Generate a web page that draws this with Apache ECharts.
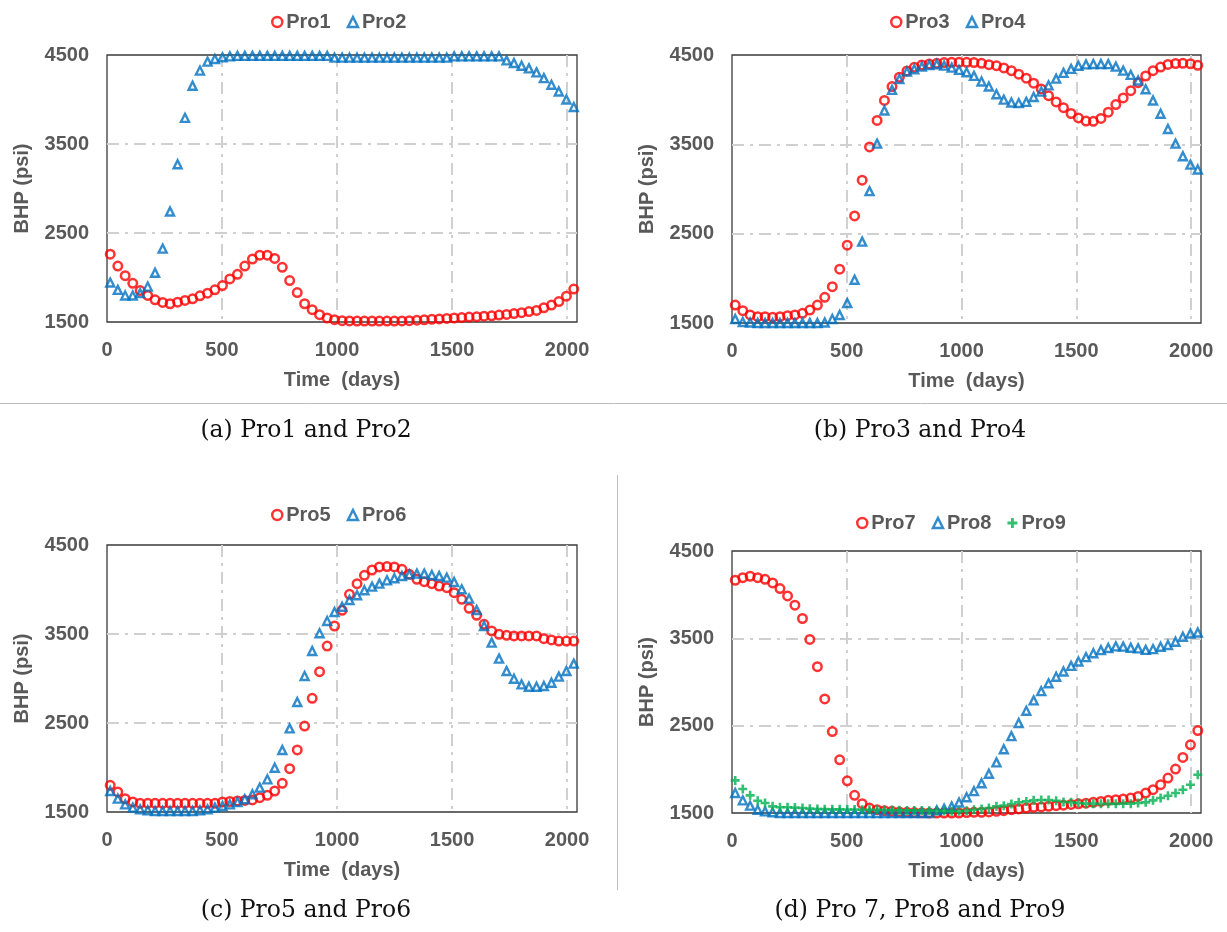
<!DOCTYPE html>
<html>
<head>
<meta charset="utf-8">
<script src="https://cdn.jsdelivr.net/npm/echarts@6/dist/echarts.min.js"></script>
<style>html,body{margin:0;padding:0;background:#fff}#c{width:1227px;height:932px}</style>
</head>
<body>
<div id="c"></div>
<script>
const days = [14,47,79,112,144,177,209,242,274,307,339,372,404,437,469,502,534,567,599,632,664,697,729,762,794,827,859,892,924,957,989,1022,1054,1087,1119,1152,1184,1217,1249,1282,1314,1347,1379,1412,1444,1477,1509,1542,1574,1607,1639,1672,1704,1737,1769,1802,1834,1867,1899,1932,1964,1997,2029];

const pro1 = [2262,2129,2021,1935,1853,1798,1749,1720,1705,1723,1742,1761,1794,1824,1861,1909,1984,2036,2129,2207,2251,2251,2214,2114,1965,1831,1705,1638,1582,1545,1526,1515,1512,1510,1510,1510,1510,1510,1510,1512,1515,1520,1525,1530,1535,1540,1545,1550,1555,1560,1565,1570,1578,1585,1595,1605,1617,1630,1660,1690,1730,1790,1870];
const pro2 = [1943,1861,1798,1798,1824,1898,2054,2325,2742,3273,3794,4154,4325,4426,4455,4474,4485,4490,4490,4490,4490,4490,4490,4490,4490,4490,4490,4490,4490,4490,4470,4470,4470,4470,4470,4470,4470,4470,4470,4470,4470,4470,4470,4470,4470,4470,4485,4485,4485,4485,4485,4485,4485,4440,4410,4380,4350,4305,4240,4165,4090,4000,3915];
const pro3 = [1701,1638,1590,1571,1571,1564,1571,1582,1590,1608,1645,1701,1787,1906,2103,2371,2698,3099,3471,3768,3991,4147,4251,4322,4362,4388,4400,4407,4415,4418,4418,4418,4415,4407,4392,4380,4355,4325,4285,4240,4185,4120,4045,3975,3910,3845,3795,3760,3758,3790,3860,3945,4020,4100,4190,4265,4325,4365,4395,4405,4407,4402,4385];
const pro4 = [1545,1512,1505,1500,1500,1500,1500,1500,1500,1500,1500,1500,1505,1545,1590,1724,1984,2411,2976,3508,3879,4110,4232,4314,4340,4370,4388,4396,4381,4359,4333,4307,4266,4203,4147,4060,4000,3968,3962,3975,4030,4090,4160,4235,4300,4345,4380,4395,4400,4400,4398,4370,4325,4277,4214,4117,3991,3842,3671,3508,3366,3273,3218];
const pro5 = [1800,1725,1650,1613,1598,1598,1598,1598,1598,1598,1598,1598,1598,1598,1598,1613,1618,1624,1630,1635,1661,1688,1736,1822,1987,2197,2466,2777,3077,3365,3590,3766,3946,4066,4159,4219,4253,4258,4253,4227,4170,4114,4088,4066,4039,4021,3964,3890,3788,3710,3609,3534,3496,3485,3478,3478,3478,3478,3448,3433,3421,3421,3421];
const pro6 = [1736,1650,1586,1549,1530,1519,1511,1511,1511,1511,1511,1511,1519,1530,1549,1568,1586,1613,1643,1699,1774,1867,1998,2197,2440,2736,3028,3309,3508,3646,3747,3807,3882,3935,3991,4032,4066,4103,4126,4152,4170,4178,4178,4163,4152,4133,4084,4002,3897,3770,3590,3403,3223,3084,2998,2934,2908,2908,2916,2953,3021,3084,3167];
const pro7 = [4165,4195,4211,4195,4176,4135,4070,3986,3879,3727,3487,3175,2806,2433,2109,1869,1702,1607,1557,1538,1527,1519,1512,1508,1505,1502,1500,1500,1500,1500,1500,1505,1508,1508,1512,1519,1527,1538,1546,1557,1565,1570,1576,1584,1590,1598,1605,1613,1622,1633,1645,1652,1660,1671,1690,1728,1767,1824,1900,2003,2136,2281,2444];
const pro8 = [1729,1645,1584,1538,1519,1508,1500,1500,1500,1500,1500,1500,1500,1500,1500,1500,1500,1500,1500,1500,1500,1500,1500,1500,1500,1500,1500,1530,1550,1575,1620,1680,1750,1840,1950,2080,2230,2380,2530,2670,2790,2895,2985,3060,3120,3185,3235,3285,3330,3365,3390,3408,3405,3392,3385,3368,3377,3404,3423,3461,3518,3556,3567];
const pro9 = [1873,1774,1702,1641,1614,1576,1565,1565,1562,1557,1550,1546,1544,1542,1542,1540,1540,1538,1538,1536,1535,1533,1532,1530,1530,1528,1527,1525,1522,1520,1519,1527,1538,1546,1557,1576,1584,1603,1622,1633,1645,1648,1648,1640,1626,1622,1614,1607,1607,1605,1605,1605,1607,1607,1614,1622,1645,1671,1698,1729,1767,1824,1938];

const xTicks = [0, 500, 1000, 1500, 2000];
const yTicks = [1500, 2500, 3500, 4500];
const captions = ['(a) Pro1 and Pro2', '(b) Pro3 and Pro4', '(c) Pro5 and Pro6', '(d) Pro 7, Pro8 and Pro9'];
const panelSeries = [
  [['Pro1', pro1, 'o'], ['Pro2', pro2, 't']],
  [['Pro3', pro3, 'o'], ['Pro4', pro4, 't']],
  [['Pro5', pro5, 'o'], ['Pro6', pro6, 't']],
  [['Pro7', pro7, 'o'], ['Pro8', pro8, 't'], ['Pro9', pro9, 'p']]
];

const RED = '#ff0000', BLUE = '#0070c0', GREEN = '#00b050', GRAY = '#595959';
const FONT = '"Liberation Sans", Arial, sans-serif';
const PLUS = 'path://M3.2,0H5.8V3.2H9V5.8H5.8V9H3.2V5.8H0V3.2H3.2Z';

const grids = [
  {left: 107, top: 55, width: 470, height: 267},
  {left: 732, top: 55, width: 469, height: 268},
  {left: 107, top: 545, width: 470, height: 267},
  {left: 732, top: 551, width: 469, height: 262}
];
const legendPos = [
  {left: 266, top: 7},
  {left: 885, top: 7},
  {left: 266, top: 500},
  {left: 851, top: 508}
];

const dashGrid = {color: '#d0d0d0', width: 2, type: [12, 6, 3, 6]};

const option = {
  animation: false,
  backgroundColor: '#fff',
  textStyle: {fontFamily: FONT},
  grid: grids.map(g => Object.assign({show: true, borderColor: '#3a3a3a', borderWidth: 1.3, backgroundColor: 'transparent', containLabel: false}, g)),
  xAxis: grids.map((g, k) => ({
    type: 'value', gridIndex: k, min: 0, max: 2043, interval: 500,
    name: 'Time  (days)', nameLocation: 'middle', nameGap: 48,
    nameTextStyle: {color: GRAY, fontSize: 20, fontWeight: 'bold', fontFamily: FONT},
    axisLine: {show: false}, axisTick: {show: false},
    axisLabel: {color: GRAY, fontSize: 20, fontWeight: 'bold', fontFamily: FONT, margin: 18, showMaxLabel: false,
      formatter: v => xTicks.indexOf(v) >= 0 ? String(v) : ''},
    splitLine: {show: true, showMinLine: false, showMaxLine: false, lineStyle: dashGrid}
  })),
  yAxis: grids.map((g, k) => ({
    type: 'value', gridIndex: k, min: 1500, max: 4500, interval: 1000,
    name: 'BHP (psi)', nameLocation: 'middle', nameGap: 75,
    nameTextStyle: {color: GRAY, fontSize: 20, fontWeight: 'bold', fontFamily: FONT},
    axisLine: {show: false}, axisTick: {show: false},
    axisLabel: {color: GRAY, fontSize: 20, fontWeight: 'bold', fontFamily: FONT, margin: 18,
      formatter: v => yTicks.indexOf(v) >= 0 ? String(v) : ''},
    splitLine: {show: true, showMinLine: false, showMaxLine: false, lineStyle: dashGrid}
  })),
  legend: panelSeries.map((ps, k) => ({
    left: legendPos[k].left, top: legendPos[k].top,
    itemWidth: 10, itemHeight: 10, itemGap: 16,
    textStyle: {color: GRAY, fontSize: 20, fontWeight: 'bold', fontFamily: FONT, padding: [0, 0, 0, -1]},
    data: ps.map(s => {
      if (s[2] === 'o') return {name: s[0], icon: 'circle', itemStyle: {color: 'rgba(255,255,255,0)', borderColor: RED, borderWidth: 2.5}};
      if (s[2] === 't') return {name: s[0], icon: 'triangle', itemStyle: {color: 'rgba(255,255,255,0)', borderColor: BLUE, borderWidth: 2.5}};
      return {name: s[0], icon: PLUS, itemStyle: {color: GREEN, borderWidth: 0}};
    })
  })),
  series: [],
  graphic: []
};

panelSeries.forEach((ps, k) => {
  ps.forEach(s => {
    const data = days.map((d, i) => [d, s[1][i]]);
    let ser = {name: s[0], type: 'scatter', xAxisIndex: k, yAxisIndex: k, data: data, clip: false};
    if (s[2] === 'o') {
      ser.symbol = 'circle'; ser.symbolSize = 8.5;
      ser.itemStyle = {color: 'rgba(255,255,255,0)', borderColor: RED, borderWidth: 2.5};
    } else if (s[2] === 't') {
      ser.symbol = 'triangle'; ser.symbolSize = 8;
      ser.itemStyle = {color: 'rgba(255,255,255,0)', borderColor: BLUE, borderWidth: 2.4};
    } else {
      ser.symbol = PLUS; ser.symbolSize = 9;
      ser.itemStyle = {color: GREEN, borderWidth: 0};
    }
    ser.emphasis = {disabled: true};
    option.series.push(ser);
  });
});

const capPos = [[306, 431], [920, 431], [306, 911], [920, 911]];
captions.forEach((c, k) => {
  option.graphic.push({
    type: 'text', x: capPos[k][0], y: capPos[k][1],
    style: {text: c, align: 'center', verticalAlign: 'middle', font: '23.5px "DejaVu Serif", "Liberation Serif", serif', fill: '#111'}
  });
});
option.graphic.push({type: 'line', shape: {x1: 0, y1: 403.5, x2: 1227, y2: 403.5}, style: {stroke: '#bdbdbd', lineWidth: 1}});
option.graphic.push({type: 'line', shape: {x1: 617.5, y1: 475, x2: 617.5, y2: 890}, style: {stroke: '#bdbdbd', lineWidth: 1}});

const chart = echarts.init(document.getElementById('c'), null, {renderer: 'canvas'});
chart.setOption(option);
</script>
</body>
</html>
